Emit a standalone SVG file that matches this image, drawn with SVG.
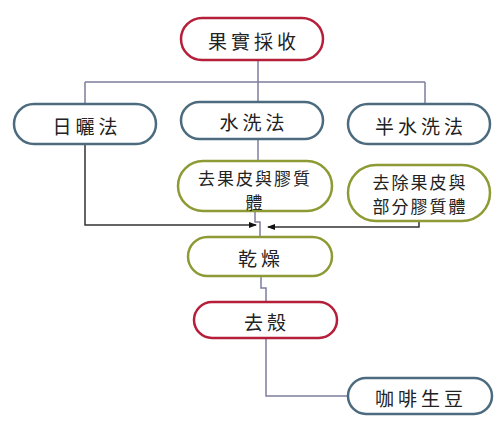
<svg xmlns="http://www.w3.org/2000/svg" width="503" height="428" viewBox="0 0 503 428">
<defs>
<style>
.n rect{fill:#fff;stroke-width:2.5}
.red rect{stroke:#b51f3a}
.blue rect{stroke:#4d6b7f}
.olive rect{stroke:#8e9b34}
text{font-family:"Noto Sans CJK TC","Noto Sans CJK SC",sans-serif;font-size:19px;fill:#222;text-anchor:middle;dominant-baseline:central;letter-spacing:4px}
.s{font-size:17px;letter-spacing:2px}
.c{fill:none;stroke:#7d7f9e;stroke-width:1.5}
.k{fill:none;stroke:#333;stroke-width:1.5}
</style>
<marker id="ah" markerWidth="8" markerHeight="8" refX="7" refY="4" orient="auto" markerUnits="userSpaceOnUse">
<path d="M0,1 L8,4 L0,7 Z" fill="#111"/>
</marker>
</defs>
<rect width="503" height="428" fill="#fff"/>
<g id="connectors">
<path class="c" d="M258,60 V82 M85,82 H425 M85,82 V104 M258,82 V102 M425,82 V104"/>
<path class="c" d="M258,139 V161"/>
<path class="k" d="M85,144 V225 H256" marker-end="url(#ah)"/>
<path class="k" d="M419,221 V227 H268" marker-end="url(#ah)"/>
<path class="c" d="M255,211 V222 H260 V237"/>
<path class="c" d="M261,276 V288 H266 V302"/>
<path class="c" d="M266,338 V396 H348"/>
</g>
<g id="n1" class="n red"><rect x="181" y="18" width="142" height="42" rx="21"/><text x="254" y="40">果實採收</text></g>
<g id="n2" class="n blue"><rect x="14" y="104" width="142" height="40" rx="20"/><text x="87" y="125">日曬法</text></g>
<g id="n3" class="n blue"><rect x="181" y="102" width="142" height="37" rx="18.5"/><text x="254" y="121">水洗法</text></g>
<g id="n4" class="n blue"><rect x="348" y="104" width="142" height="40" rx="20"/><text x="421" y="125">半水洗法</text></g>
<g id="n5" class="n olive"><rect x="178" y="161" width="154" height="50" rx="25"/><text class="s" x="255" y="177">去果皮與膠質</text><text class="s" x="255" y="201">體</text></g>
<g id="n6" class="n olive"><rect x="348" y="165" width="142" height="56" rx="28"/><text class="s" x="420" y="181">去除果皮與</text><text class="s" x="420" y="205">部分膠質體</text></g>
<g id="n7" class="n olive"><rect x="188" y="237" width="144" height="39" rx="19.5"/><text x="261" y="257">乾燥</text></g>
<g id="n8" class="n red"><rect x="194" y="302" width="143" height="36" rx="18"/><text x="267" y="321">去殼</text></g>
<g id="n9" class="n blue"><rect x="348" y="378" width="144" height="36" rx="18"/><text x="421" y="397">咖啡生豆</text></g>
</svg>
